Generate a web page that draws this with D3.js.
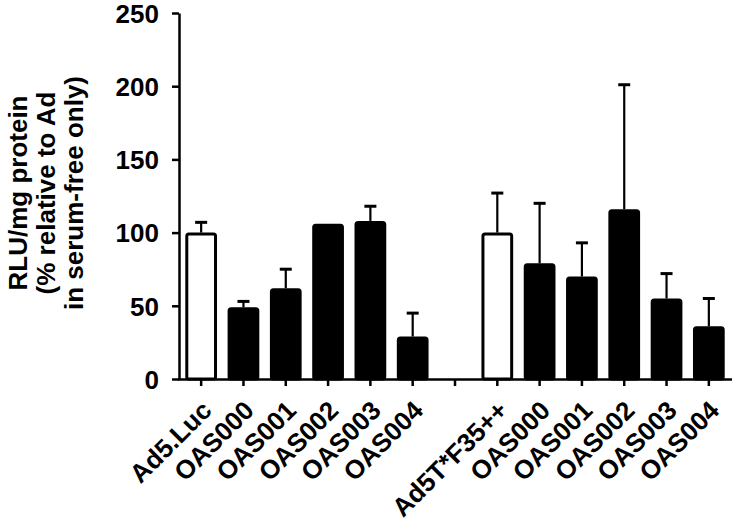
<!DOCTYPE html>
<html>
<head>
<meta charset="utf-8">
<script src="https://cdn.jsdelivr.net/npm/d3@7"></script>
<style>
  body { margin: 0; background: #fff; }
  svg text { font-family: "Liberation Sans", Arial, sans-serif; font-weight: bold; fill: #000; }
</style>
</head>
<body>
<svg id="chart" width="735" height="524"></svg>
<script>
// one slot per tick; the empty slot is the gap between the two groups
const labels = ['Ad5.Luc', 'OAS000', 'OAS001', 'OAS002', 'OAS003', 'OAS004', '',
                'Ad5T*F35++', 'OAS000', 'OAS001', 'OAS002', 'OAS003', 'OAS004'];
const means = [100, 49, 62, 106, 108, 29, null, 100, 79, 70, 116, 55, 36];
const errors = [7, 4, 13, 0, 10, 16, null, 27, 41, 23, 85, 17, 19];
const isControl = [true, false, false, false, false, false, false, true, false, false, false, false, false];
const yTicks = [0, 50, 100, 150, 200, 250];
const yLabelLines = ['RLU/mg protein', '(% relative to Ad', 'in serum-free only)'];

const svg = d3.select('#chart');

const x = d3.scaleBand()
  .domain(d3.range(labels.length))
  .range([180, 730])
  .paddingInner(0.25)
  .paddingOuter(0.125);

const y = d3.scaleLinear().domain([0, 250]).range([379, 13]);

const data = labels.map((l, i) => ({ i, label: l, mean: means[i], err: errors[i], ctrl: isControl[i] }))
  .filter(d => d.mean !== null);

// error bars (upper only), drawn first so bars cover their base
const eb = svg.append('g').attr('class', 'errbars');
eb.selectAll('line.stem').data(data.filter(d => d.err > 0)).enter().append('line')
  .attr('x1', d => x(d.i) + x.bandwidth() / 2)
  .attr('x2', d => x(d.i) + x.bandwidth() / 2)
  .attr('y1', d => y(d.mean))
  .attr('y2', d => y(d.mean + d.err))
  .attr('stroke', '#000').attr('stroke-width', 2.2);
eb.selectAll('line.cap').data(data.filter(d => d.err > 0)).enter().append('line')
  .attr('x1', d => x(d.i) + x.bandwidth() / 2 - 6)
  .attr('x2', d => x(d.i) + x.bandwidth() / 2 + 6)
  .attr('y1', d => y(d.mean + d.err))
  .attr('y2', d => y(d.mean + d.err))
  .attr('stroke', '#000').attr('stroke-width', 3);

// bars
svg.append('g').selectAll('rect').data(data).enter().append('rect')
  .attr('x', d => x(d.i) + 1.5)
  .attr('width', x.bandwidth() - 3)
  .attr('y', d => y(d.mean) + 1.5)
  .attr('height', d => y(0) - y(d.mean) - 1.5)
  .attr('rx', 2)
  .attr('fill', d => d.ctrl ? '#fff' : '#000')
  .attr('stroke', '#000')
  .attr('stroke-width', 3);

// y axis
const yAxis = svg.append('g')
  .attr('transform', 'translate(179,0)')
  .call(d3.axisLeft(y).tickValues(yTicks).tickSize(7).tickPadding(13).tickSizeOuter(0));
yAxis.select('.domain').attr('stroke-width', 2.5);
yAxis.selectAll('.tick line').attr('stroke-width', 2.5);
yAxis.selectAll('.tick text').style('font-size', '26px').attr('dy', '0.36em');

// x axis
const xAxis = svg.append('g')
  .attr('transform', 'translate(0,379)')
  .call(d3.axisBottom(x).tickSize(7).tickSizeOuter(0).tickFormat(i => labels[i]));
xAxis.select('.domain').attr('d', 'M178,0.5H732').attr('stroke-width', 2.5);
xAxis.selectAll('.tick line').attr('stroke-width', 2.5);
xAxis.selectAll('.tick text')
  .style('font-size', '26px')
  .attr('text-anchor', 'end')
  .attr('x', 0).attr('y', 0).attr('dy', null)
  .attr('transform', 'translate(12,33) rotate(-45)');

// y axis title
const yl = svg.append('g').attr('class', 'ylabel');
yLabelLines.forEach((t, k) => {
  yl.append('text')
    .attr('transform', `translate(${27 + k * 28},193) rotate(-90)`)
    .attr('text-anchor', 'middle')
    .style('font-size', '26px')
    .text(t);
});
</script>
</body>
</html>
